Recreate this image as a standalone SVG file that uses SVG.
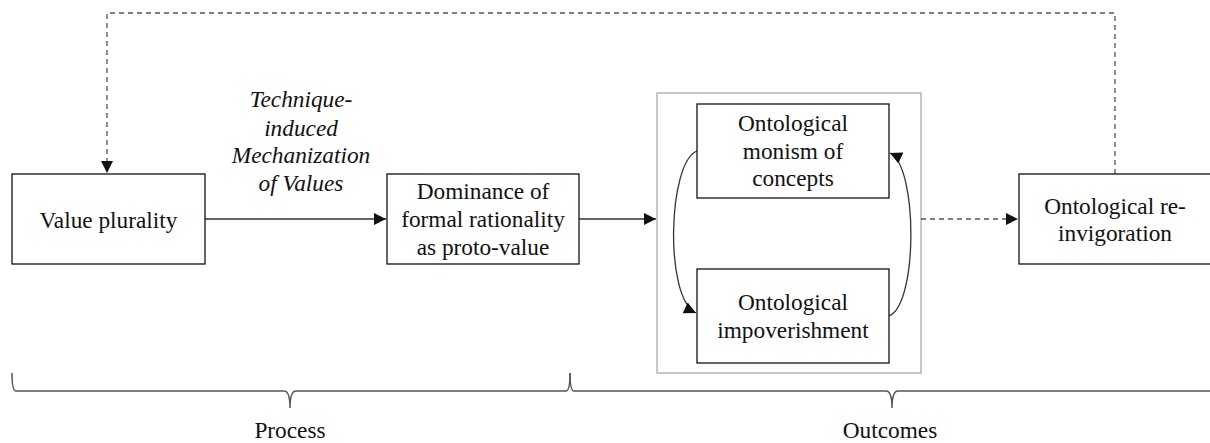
<svg xmlns="http://www.w3.org/2000/svg" width="1210" height="443" viewBox="0 0 1210 443">
  <style>
    .box { fill: #fff; stroke: #111; stroke-width: 1.3; }
    .cont { fill: none; stroke: #aaa; stroke-width: 1.3; }
    .t { font-family: "Liberation Serif", "Times New Roman", serif; font-size: 23.3px; fill: #111; text-anchor: middle; }
    .it { font-style: italic; }
    .ln { fill: none; stroke: #333; stroke-width: 1.3; }
    .dash { fill: none; stroke: #555; stroke-width: 1.3; stroke-dasharray: 5 4; }
    .brace { fill: none; stroke: #555; stroke-width: 1.5; }
  </style>
  <defs>
    <marker id="ah" markerUnits="userSpaceOnUse" markerWidth="14" markerHeight="12" refX="12" refY="6" orient="auto">
      <path d="M0,0 L12,6 L0,12 Z" fill="#111"/>
    </marker>
  </defs>
  <rect width="1210" height="443" fill="#fff"/>

  <g id="outcomes-container">
    <rect class="cont" x="657" y="93" width="264" height="280"/>
  </g>

  <g id="connectors">
    <line class="ln" x1="205" y1="219" x2="386" y2="219" marker-end="url(#ah)"/>
    <line class="ln" x1="579" y1="219" x2="656" y2="219" marker-end="url(#ah)"/>
    <line class="dash" x1="921" y1="219" x2="1018" y2="219" marker-end="url(#ah)"/>
    <path class="dash" d="M1115,174 V13 H107 V173" marker-end="url(#ah)"/>
    <path class="ln" d="M697,151 C668,162 664,298 696,313" marker-end="url(#ah)"/>
    <path class="ln" d="M889,316 C918,305 918,166 890,153" marker-end="url(#ah)"/>
  </g>

  <g id="label-technique">
    <text class="t it" x="301" y="107">Technique-</text>
    <text class="t it" x="301" y="136">induced</text>
    <text class="t it" x="301" y="163">Mechanization</text>
    <text class="t it" x="301" y="191">of Values</text>
  </g>

  <g id="value-plurality">
    <rect class="box" x="12" y="174" width="193" height="90"/>
    <text class="t" x="108.5" y="228">Value plurality</text>
  </g>

  <g id="dominance">
    <rect class="box" x="387" y="174" width="192" height="90"/>
    <text class="t" x="483" y="199">Dominance of</text>
    <text class="t" x="483" y="227">formal rationality</text>
    <text class="t" x="483" y="255">as proto-value</text>
  </g>

  <g id="monism">
    <rect class="box" x="697" y="104" width="192" height="94"/>
    <text class="t" x="793" y="131">Ontological</text>
    <text class="t" x="793" y="159">monism of</text>
    <text class="t" x="793" y="186">concepts</text>
  </g>

  <g id="impoverishment">
    <rect class="box" x="697" y="269" width="192" height="94"/>
    <text class="t" x="793" y="310">Ontological</text>
    <text class="t" x="793" y="338">impoverishment</text>
  </g>

  <g id="reinvigoration">
    <rect class="box" x="1019" y="174" width="200" height="90"/>
    <text class="t" x="1115" y="214">Ontological re-</text>
    <text class="t" x="1115" y="241">invigoration</text>
  </g>

  <g id="brace-process">
    <path class="brace" d="M12,373 Q12,391 16,391 H284 Q290,391 290,408 Q290,391 296,391 H566 Q570,391 570,373"/>
    <text class="t" x="290" y="438">Process</text>
  </g>

  <g id="brace-outcomes">
    <path class="brace" d="M570,373 Q570,391 574,391 H886 Q892,391 892,408 Q892,391 898,391 H1212"/>
    <text class="t" x="890" y="438">Outcomes</text>
  </g>
</svg>
